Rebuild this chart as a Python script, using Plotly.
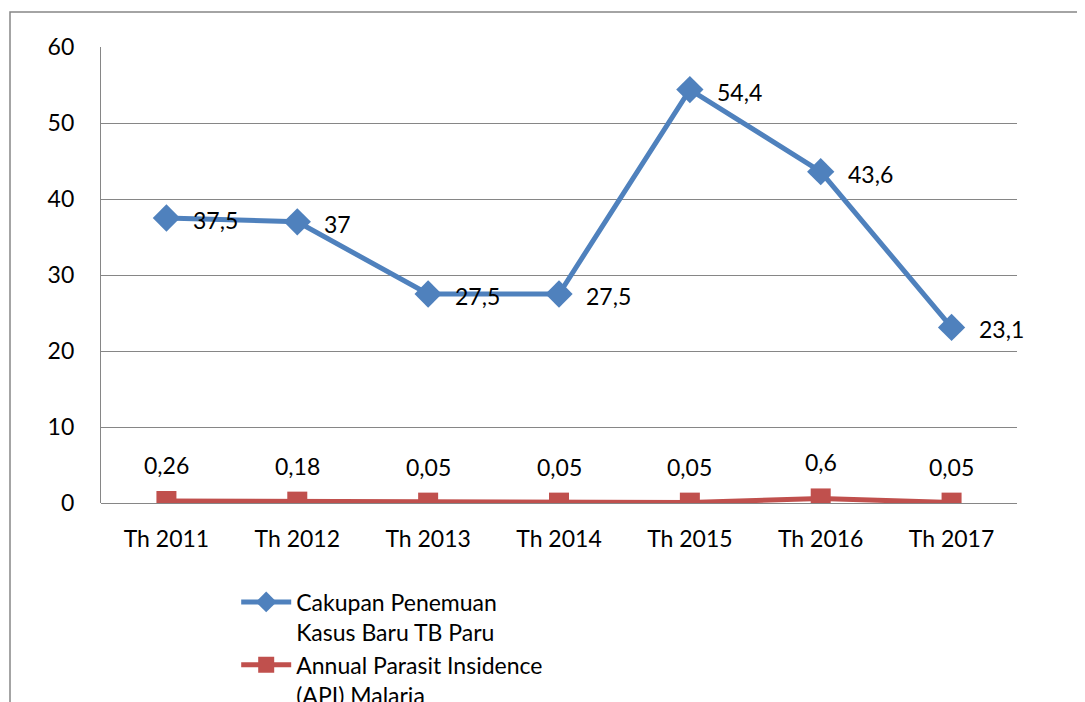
import plotly.graph_objects as go

categories = ["Th 2011", "Th 2012", "Th 2013", "Th 2014", "Th 2015", "Th 2016", "Th 2017"]
tb_values = [37.5, 37, 27.5, 27.5, 54.4, 43.6, 23.1]
api_values = [0.26, 0.18, 0.05, 0.05, 0.05, 0.6, 0.05]
tb_name = "Cakupan Penemuan<br>Kasus Baru TB Paru"
api_name = "Annual Parasit Insidence<br>(API) Malaria"
y_ticks = [0, 10, 20, 30, 40, 50, 60]

FONT = "Lato, Carlito, Calibri, sans-serif"
FS = 23
BLUE = "#4F81BD"
RED = "#C0504D"
GRID = "#868686"

# plot area: page offset of 8px (body margin) taken into account
ML, MR, MT, MB = 93, 76, 39, 207
PW, PH = 1085 - ML - MR, 702 - MT - MB


def fmt(v):
    return ("%g" % v).replace(".", ",")


fig = go.Figure()
fig.add_trace(go.Scatter(
    x=categories, y=tb_values, name=tb_name, mode="lines+markers",
    line=dict(color=BLUE, width=5),
    marker=dict(symbol="diamond", size=21, color=BLUE),
))
fig.add_trace(go.Scatter(
    x=categories, y=api_values, name=api_name, mode="lines+markers",
    line=dict(color=RED, width=5),
    marker=dict(symbol="square", size=20, color=RED),
))

annotations = []
for c, v in zip(categories, tb_values):
    annotations.append(dict(x=c, y=v, text=fmt(v), showarrow=False, xanchor="left",
                            yanchor="middle", xshift=25, yshift=-2,
                            font=dict(family=FONT, size=FS, color="#000000")))
for c, v in zip(categories, api_values):
    annotations.append(dict(x=c, y=v, text=fmt(v), showarrow=False, xanchor="center",
                            yanchor="middle", yshift=36,
                            font=dict(family=FONT, size=FS, color="#000000")))

fig.update_layout(
    width=1085, height=702,
    margin=dict(l=ML, r=MR, t=MT, b=MB, autoexpand=False),
    paper_bgcolor="white", plot_bgcolor="white",
    font=dict(family=FONT, size=FS, color="#000000"),
    annotations=annotations,
    showlegend=True,
    legend=dict(x=0.1476, y=-0.17, xanchor="left", yanchor="top",
                valign="top", font=dict(family=FONT, size=FS),
                tracegroupgap=0, bgcolor="rgba(0,0,0,0)", itemwidth=50),
    shapes=[dict(type="rect", xref="paper", yref="paper",
                 x0=(2 - ML) / PW, x1=1.2, y0=-0.6, y1=1 + (MT - 4) / PH,
                 line=dict(color=GRID, width=1.5), fillcolor="rgba(0,0,0,0)", layer="below")],
)
fig.update_xaxes(
    type="category", range=[-0.5, 6.5], showgrid=False, automargin=False,
    showline=False, zeroline=False, ticks="", ticklabelstandoff=20,
    tickfont=dict(family=FONT, size=FS),
)
fig.update_yaxes(
    range=[0, 60], tickvals=y_ticks, showgrid=True, gridcolor=GRID, gridwidth=1.3,
    automargin=False,
    showline=True, linecolor=GRID, linewidth=1.3, zeroline=True, zerolinecolor=GRID,
    zerolinewidth=1.3, ticks="", ticklabelstandoff=21,
    tickfont=dict(family=FONT, size=FS),
)

fig.write_html("out.html")
